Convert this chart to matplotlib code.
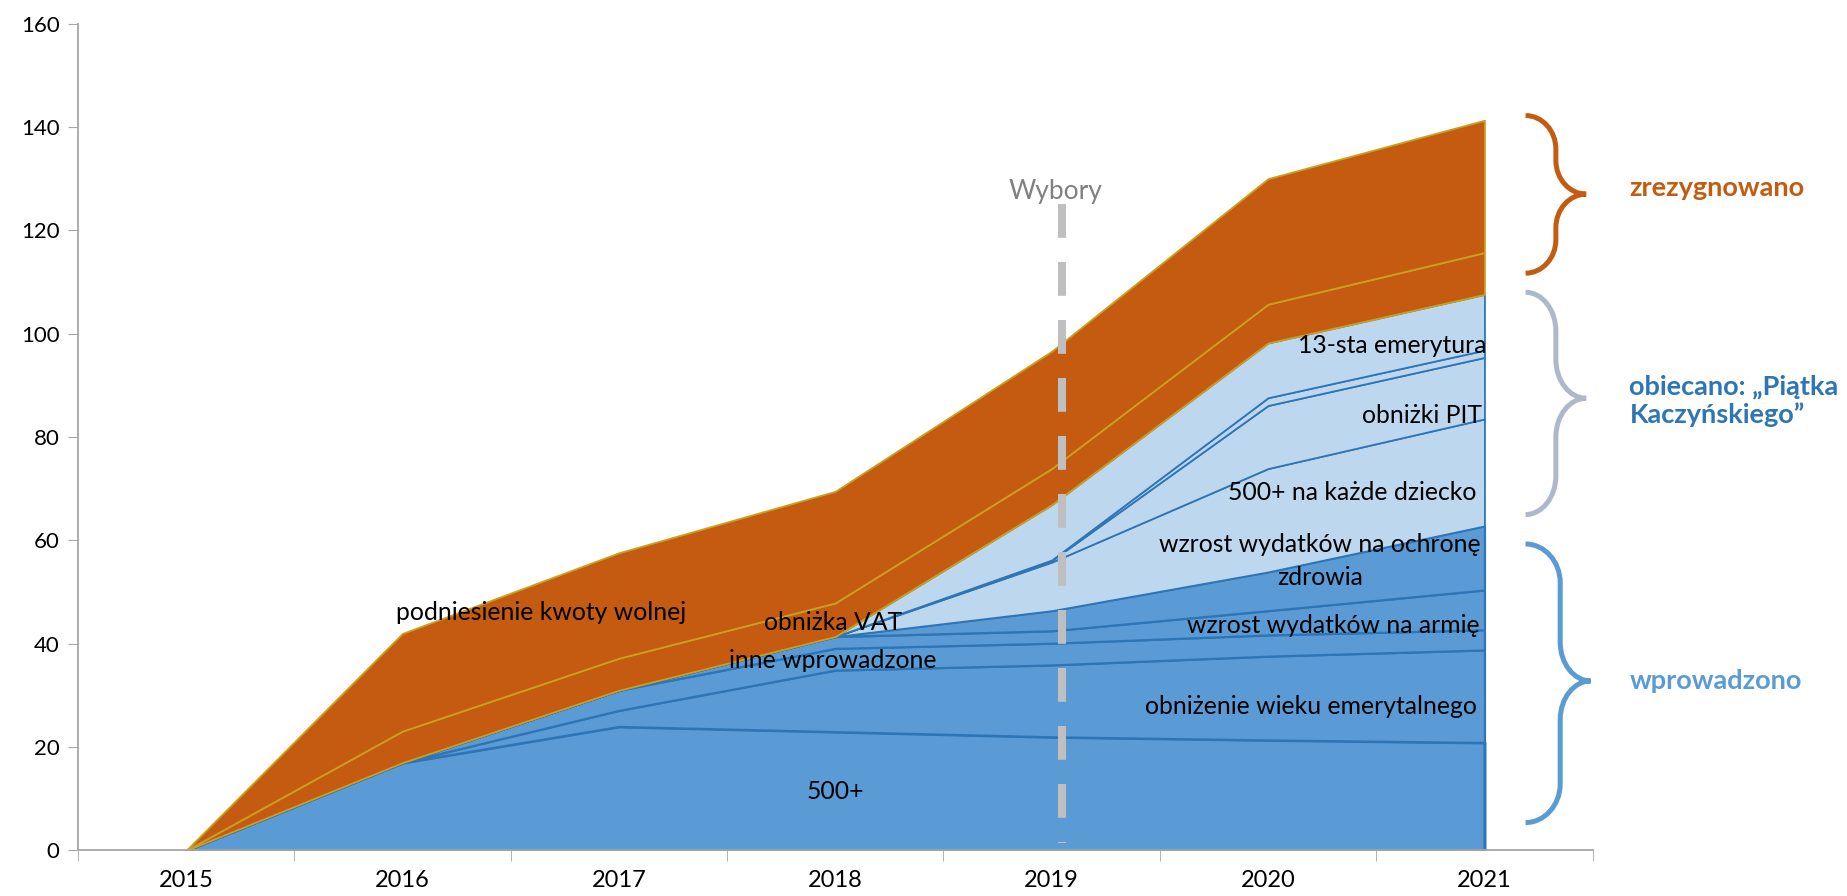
import numpy as np
import matplotlib
matplotlib.use("Agg")
import matplotlib.pyplot as plt
from matplotlib.path import Path
from matplotlib.patches import PathPatch

plt.rcParams['font.family'] = ['Lato', 'DejaVu Sans']

years = ["2015", "2016", "2017", "2018", "2019", "2020", "2021"]

# wprowadzono (introduced)
s_500 = [0, 17.0, 24.0, 23.0, 22.0, 21.4, 20.9]
s_wiek = [0, 0, 3.1, 11.9, 13.9, 16.2, 17.9]
s_inne = [0, 0, 3.9, 4.2, 4.2, 4.1, 3.9]
s_armia = [0, 0, 0, 2.3, 2.4, 4.7, 7.7]
s_zdrowie = [0, 0, 0, 0, 3.9, 7.5, 12.4]
# obiecano (promised)
s_500kazde = [0, 0, 0, 0, 9.4, 20.0, 20.7]
s_pit = [0, 0, 0, 0, 0.3, 12.2, 11.9]
s_bus = [0, 0, 0, 0, 0.1, 1.5, 1.4]
s_13 = [0, 0, 0, 0, 10.7, 10.6, 10.8]
# zrezygnowano (abandoned)
s_vat = [0, 6.1, 6.2, 6.5, 7.0, 7.5, 8.1]
s_kwota = [0, 18.9, 20.4, 21.6, 22.7, 24.3, 25.6]

BLUE = '#5B9BD5'
BLUE_EDGE = '#2E75B6'
LIGHT = '#BDD7EE'
ORANGE = '#C55A11'
GOLD = '#C9A020'

series = [
    (s_500, BLUE, BLUE_EDGE, 2.2),
    (s_wiek, BLUE, BLUE_EDGE, 1.6),
    (s_inne, BLUE, BLUE_EDGE, 1.6),
    (s_armia, BLUE, BLUE_EDGE, 1.6),
    (s_zdrowie, BLUE, BLUE_EDGE, 1.6),
    (s_500kazde, LIGHT, BLUE_EDGE, 1.3),
    (s_pit, LIGHT, BLUE_EDGE, 1.3),
    (s_bus, LIGHT, BLUE_EDGE, 1.3),
    (s_13, LIGHT, BLUE_EDGE, 1.3),
    (s_vat, ORANGE, GOLD, 1.3),
    (s_kwota, ORANGE, GOLD, 1.3),
]

fig = plt.figure(figsize=(18.47, 8.96), dpi=100)
ax = fig.add_axes([0.0421, 0.0508, 0.8202, 0.9229])

x = np.arange(len(years))
base = np.zeros(len(years))
for vals, fc, ec, lw in series:
    top = base + np.array(vals)
    ax.fill_between(x, base, top, facecolor=fc, edgecolor=ec, linewidth=lw, zorder=2)
    base = top

# election line
ax.plot([4.05, 4.05], [125, 1.5], color='#BFBFBF', lw=5.8, dashes=(4.2, 3.0), zorder=5,
        solid_capstyle='butt')
ax.text(4.02, 127.6, "Wybory", color='#808080', fontsize=19, ha='center', va='center', zorder=6)

# labels
lab_fs = 17.8
ax.text(1.64, 46.0, "podniesienie kwoty wolnej", fontsize=lab_fs, ha='center', va='center', zorder=6)
ax.text(2.99, 44.2, "obniżka VAT", fontsize=lab_fs, ha='center', va='center', zorder=6)
ax.text(2.99, 36.7, "inne wprowadzone", fontsize=lab_fs, ha='center', va='center', zorder=6)
ax.text(3.0, 11.4, "500+", fontsize=lab_fs, ha='center', va='center', zorder=6)
ax.text(6.01, 97.8, "13-sta emerytura", fontsize=lab_fs, ha='right', va='center', zorder=6)
ax.text(5.99, 84.1, "obniżki PIT", fontsize=lab_fs, ha='right', va='center', zorder=6)
ax.text(5.39, 69.3, "500+ na każde dziecko", fontsize=lab_fs, ha='center', va='center', zorder=6)
ax.text(5.24, 59.3, "wzrost wydatków na ochronę", fontsize=lab_fs, ha='center', va='center', zorder=6)
ax.text(5.24, 52.9, "zdrowia", fontsize=lab_fs, ha='center', va='center', zorder=6)
ax.text(5.30, 43.5, "wzrost wydatków na armię", fontsize=lab_fs, ha='center', va='center', zorder=6)
ax.text(5.20, 27.8, "obniżenie wieku emerytalnego", fontsize=lab_fs, ha='center', va='center', zorder=6)

# braces
def brace(x0, x1, x2, ytop, ymid, ybot, r, color):
    k = 0.55
    verts = [
        (x0, ytop),
        (x0 + k * (x1 - x0), ytop), (x1, ytop - r + k * r), (x1, ytop - r),
        (x1, ymid + r),
        (x1, ymid + r - k * r), (x2 - k * (x2 - x1), ymid), (x2, ymid),
        (x2 - k * (x2 - x1), ymid), (x1, ymid - r + k * r), (x1, ymid - r),
        (x1, ybot + r),
        (x1, ybot + r - k * r), (x0 + k * (x1 - x0), ybot), (x0, ybot),
    ]
    codes = [Path.MOVETO,
             Path.CURVE4, Path.CURVE4, Path.CURVE4,
             Path.LINETO,
             Path.CURVE4, Path.CURVE4, Path.CURVE4,
             Path.CURVE4, Path.CURVE4, Path.CURVE4,
             Path.LINETO,
             Path.CURVE4, Path.CURVE4, Path.CURVE4]
    p = PathPatch(Path(verts, codes), facecolor='none', edgecolor=color, lw=3.6,
                  clip_on=False, zorder=7, capstyle='butt')
    ax.add_patch(p)

brace(6.19, 6.33, 6.47, 142.2, 127.0, 111.7, 6.5, ORANGE)
brace(6.19, 6.33, 6.47, 108.0, 87.5, 65.0, 7.5, '#ADB9CA')
brace(6.19, 6.35, 6.49, 59.3, 32.8, 5.4, 7.5, BLUE)

ax.text(6.67, 128.1, "zrezygnowano", color=ORANGE, fontsize=19.5, fontweight='bold',
        ha='left', va='center')
ax.text(6.67, 87.0, "obiecano: „Piątka\nKaczyńskiego”", color=BLUE_EDGE, fontsize=19.5,
        fontweight='bold', ha='left', va='center', linespacing=1.15)
ax.text(6.67, 32.8, "wprowadzono", color=BLUE, fontsize=19.5, fontweight='bold',
        ha='left', va='center')

# axes styling
ax.set_xlim(-0.5, 6.5)
ax.set_ylim(0, 160)
ax.set_xticks(x)
ax.set_xticklabels(years)
ax.set_xticks(np.arange(-0.5, 6.6, 1.0), minor=True)
ax.tick_params(axis='x', which='major', length=0, labelsize=17, pad=14)
ax.tick_params(axis='x', which='minor', length=8, color='#A6A6A6', direction='out')
ax.set_yticks(np.arange(0, 161, 20))
ax.tick_params(axis='y', length=7, color='#A6A6A6', labelsize=16, direction='out', pad=6)
for s in ['top', 'right']:
    ax.spines[s].set_visible(False)
for s in ['left', 'bottom']:
    ax.spines[s].set_color('#A6A6A6')
    ax.spines[s].set_linewidth(1.3)
ax.set_facecolor('none')

fig.savefig("out.png", dpi=100)
